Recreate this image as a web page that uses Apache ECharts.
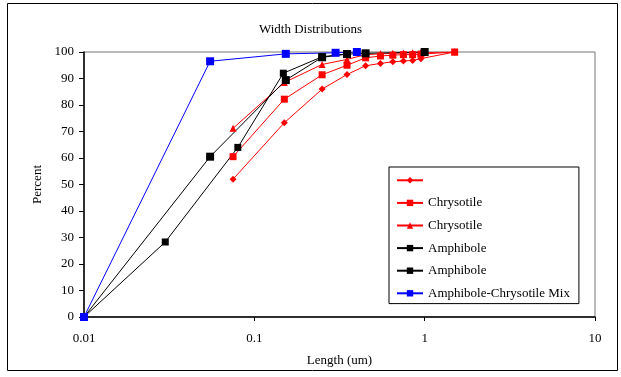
<!DOCTYPE html>
<html>
<head>
<meta charset="utf-8">
<script src="https://cdn.jsdelivr.net/npm/echarts@6/dist/echarts.min.js"></script>
<style>
html,body{margin:0;padding:0;background:#fff;}
#c{width:621px;height:377px;}
</style>
</head>
<body>
<div id="c"></div>
<script>
// ---- data ----
const seriesNames = ['', 'Chrysotile', 'Chrysotile', 'Amphibole', 'Amphibole', 'Amphibole-Chrysotile Mix'];
const redX = [0.075, 0.15, 0.25, 0.35, 0.45, 0.55, 0.65, 0.75, 0.85, 0.95, 1.5];
const redDiamondY = [52, 73.3, 86, 91.5, 94.8, 95.7, 96.3, 96.6, 96.8, 97.5, 100];
const redSquareY = [60.5, 82.2, 91.4, 95, 97.8, 98.5, 98.8, 99, 99, 99.2, 100];
const redTriangleY = [71.2, 88.5, 95.3, 97.2, 99, 99.3, 99.5, 99.6, 99.7, 99.8, 100];
const amphAX = [0.01, 0.055, 0.153, 0.25, 0.35, 0.45, 1.0];
const amphAY = [0, 60.5, 89.4, 98, 99.2, 99.5, 100];
const amphBX = [0.01, 0.03, 0.08, 0.148, 0.25, 0.35];
const amphBY = [0, 28.3, 64, 92, 98.2, 99.3];
const mixX = [0.01, 0.055, 0.153, 0.30, 0.40];
const mixY = [0, 96.5, 99.3, 99.7, 100];
const xTicks = ['0.01', '0.1', '1', '10'];
const yTicks = [0, 10, 20, 30, 40, 50, 60, 70, 80, 90, 100];

const pairs = (xs, ys) => xs.map((x, i) => [x, ys[i]]);
const font = 'Liberation Serif';
const fs = 13;
// unique internal names (zero-width suffix) so duplicate legend labels stay separate
const uid = (n, i) => n + '\u200b'.repeat(i + 1);

function mk(i, xs, ys, color, symbol, size) {
  return {
    name: uid(seriesNames[i], i),
    type: 'line',
    data: pairs(xs, ys),
    symbol: symbol,
    symbolSize: size,
    lineStyle: { color: color, width: 1 },
    itemStyle: { color: color },
    emphasis: { disabled: true },
    animation: false
  };
}

const chart = echarts.init(document.getElementById('c'), null, { renderer: 'canvas' });
chart.setOption({
  animation: false,
  backgroundColor: '#fff',
  textStyle: { fontFamily: font },
  title: {
    text: 'Width Distributions',
    left: 'center', top: 18,
    textStyle: { fontFamily: font, fontSize: fs, fontWeight: 'normal', color: '#000' }
  },
  grid: { left: 84, right: 26, top: 52, bottom: 60, show: true, borderColor: '#777', borderWidth: 1, backgroundColor: 'transparent' },
  xAxis: {
    type: 'log', logBase: 10, min: 0.01, max: 10,
    name: 'Length (um)', nameLocation: 'middle', nameGap: 37,
    nameTextStyle: { fontFamily: font, fontSize: fs, color: '#000' },
    axisLine: { lineStyle: { color: '#000', width: 1.5 } },
    axisTick: { show: true, length: 4, lineStyle: { color: '#000' } },
    minorTick: { show: false },
    splitLine: { show: false },
    axisLabel: {
      margin: 15, fontFamily: font, fontSize: fs, color: '#000',
      formatter: v => { const k = Math.round(Math.log10(v)) + 2; return xTicks[k] !== undefined ? xTicks[k] : ''; }
    }
  },
  yAxis: {
    type: 'value', min: yTicks[0], max: yTicks[yTicks.length - 1], interval: 10,
    name: 'Percent', nameLocation: 'middle', nameGap: 36, nameRotate: 90,
    nameTextStyle: { fontFamily: font, fontSize: fs, color: '#000' },
    axisLine: { show: true, lineStyle: { color: '#000', width: 1.5 } },
    axisTick: { show: true, length: 5, lineStyle: { color: '#000' } },
    splitLine: { show: false },
    axisLabel: { margin: 10, fontFamily: font, fontSize: fs, color: '#000' }
  },
  legend: {
    orient: 'vertical',
    left: 389, top: 167,
    padding: [6, 9, 3, 7],
    itemWidth: 26, itemHeight: 8, itemGap: 8,
    backgroundColor: '#fff',
    borderColor: '#000', borderWidth: 1,
    selectedMode: false,
    textStyle: { fontFamily: font, fontSize: fs, color: '#000', lineHeight: 14.6 },
    formatter: n => n.replace(/\u200b/g, '') || ' ',
    data: seriesNames.map((n, i) => uid(n, i))
  },
  graphic: [{
    type: 'rect', shape: { x: 7.5, y: 3.5, width: 610, height: 367 },
    style: { fill: 'none', stroke: '#000', lineWidth: 1 }, silent: true, z: -1
  }],
  series: [
    mk(0, redX, redDiamondY, '#ff0000', 'diamond', 7),
    mk(1, redX, redSquareY, '#ff0000', 'rect', 7),
    mk(2, redX, redTriangleY, '#ff0000', 'triangle', 7),
    mk(3, amphAX, amphAY, '#000000', 'rect', 8),
    mk(4, amphBX, amphBY, '#000000', 'rect', 7),
    mk(5, mixX, mixY, '#0000ff', 'rect', 8)
  ]
});
</script>
</body>
</html>
